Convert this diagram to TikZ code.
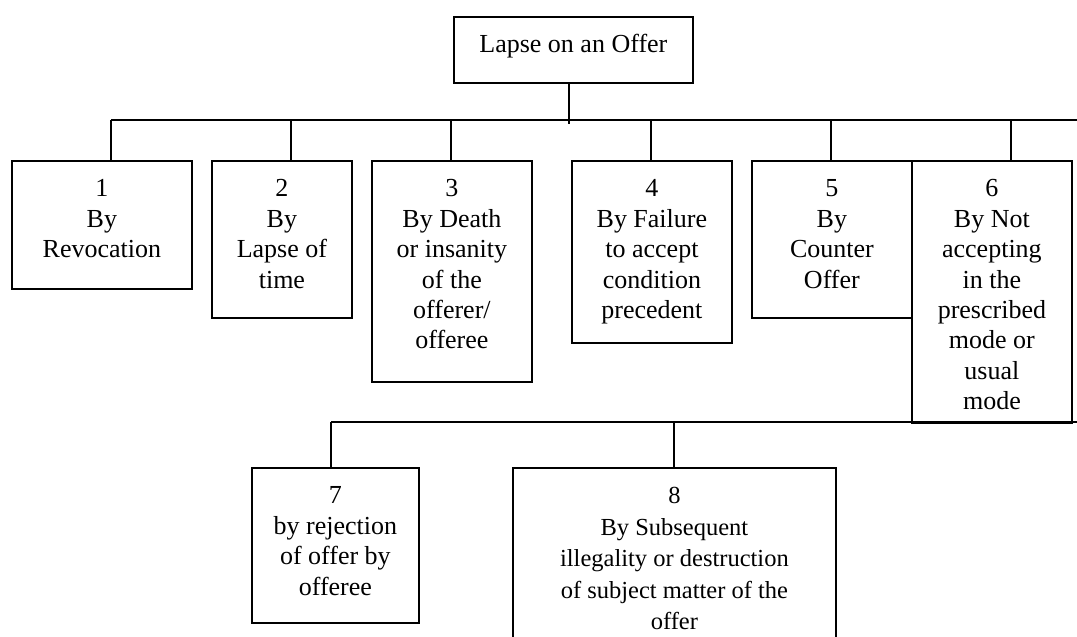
\documentclass[tikz,border=0pt]{standalone}
\usepackage{fontspec}
\setmainfont{Liberation Serif}
\newcommand{\boxtxt}[3]{\parbox[t][#2][t]{#1}{\centering\rule{0pt}{36pt}#3}}
\tikzset{
  cbox/.style={draw, line width=1.8pt, inner sep=0pt, anchor=north west,
    font=\fontsize{26}{30.4}\selectfont},
  conn/.style={line width=1.8pt}
}
\begin{document}
\begin{tikzpicture}[x=1pt,y=-1pt]
\useasboundingbox (0,0) rectangle (1077,637);
\clip (0,0) rectangle (1077,637);
% top node
\node[cbox] (top) at (453,16) {\boxtxt{239pt}{66pt}{Lapse on an Offer}};
% first level
\node[cbox] (b1) at (11,160)  {\boxtxt{180pt}{128pt}{1\\By\\Revocation}};
\node[cbox] (b2) at (211,160) {\boxtxt{140pt}{157pt}{2\\By\\Lapse of\\time}};
\node[cbox] (b3) at (371,160) {\boxtxt{160pt}{221pt}{3\\By Death\\or insanity\\of the\\offerer/\\offeree}};
\node[cbox] (b4) at (571,160) {\boxtxt{160pt}{182pt}{4\\By Failure\\to accept\\condition\\precedent}};
\node[cbox] (b5) at (751,160) {\boxtxt{160pt}{157pt}{5\\By\\Counter\\Offer}};
\node[cbox] (b6) at (911,160) {\boxtxt{160pt}{262pt}{6\\By Not\\accepting\\in the\\prescribed\\mode or\\usual\\mode}};
% second level
\node[cbox] (b7) at (251,467) {\boxtxt{167pt}{155pt}{7\\by rejection\\of offer by\\offeree}};
\node[cbox, font=\fontsize{24.5}{31.5}\selectfont] (b8) at (512,467) {\boxtxt{323pt}{200pt}{8\\By Subsequent\\illegality or destruction\\of subject matter of the\\offer}};
% bus coordinates
\coordinate (busA) at (1077,120);
\coordinate (busB) at (1077,422);
\coordinate (dt) at (569,124);
\coordinate (d1) at (111,160);
\coordinate (d2) at (291,160);
\coordinate (d3) at (451,160);
\coordinate (d4) at (651,160);
\coordinate (d5) at (831,160);
\coordinate (d6) at (1011,160);
\coordinate (d7) at (331,467);
\coordinate (d8) at (674,467);
% connectors
\draw[conn] (top.south -| dt) -- (dt);
\draw[conn] (d1 |- busA) -- (busA);
\draw[conn] (d1 |- busA) -- (d1);
\draw[conn] (d2 |- busA) -- (d2);
\draw[conn] (d3 |- busA) -- (d3);
\draw[conn] (d4 |- busA) -- (d4);
\draw[conn] (d5 |- busA) -- (d5);
\draw[conn] (d6 |- busA) -- (d6);
\draw[conn] (d7 |- busB) -- (busB);
\draw[conn] (d7 |- busB) -- (d7);
\draw[conn] (d8 |- busB) -- (d8);
\end{tikzpicture}
\end{document}
